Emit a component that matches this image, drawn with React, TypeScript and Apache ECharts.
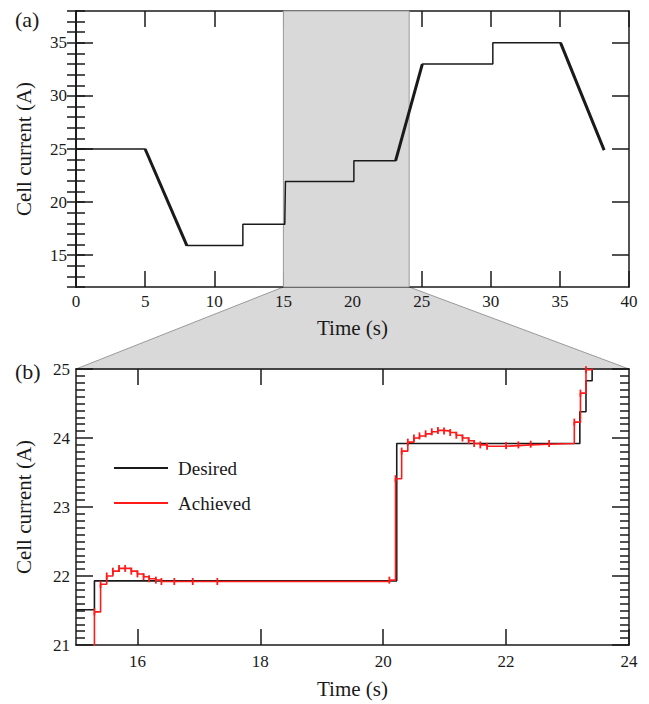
import React, { useEffect, useRef } from 'react';
import * as echarts from 'echarts';

// ---- Panel (a): overall current profile ----
const topTime = [0, 5.0, 8.02, 12.07, 12.07, 15.1, 15.15, 20.1, 20.1, 23.12, 25.05, 30.15, 30.15, 35.05, 38.2];
const topCurrent = [25, 25, 15.9, 15.9, 17.9, 17.9, 21.95, 21.95, 23.9, 23.9, 33, 33, 35, 35, 24.9];
const topYTicks = [15, 20, 25, 30, 35];
const zoomWindow = [15, 24.1];

// ---- Panel (b): zoomed detail ----
const desiredTime = [15.0, 15.3, 20.22, 23.2, 23.3, 23.4];
const desiredCurrent = [21.51, 21.93, 23.92, 24.38, 24.83, 25.3];
const achievedTime = [15.3, 15.3, 15.4, 15.5, 15.6, 15.7, 15.8, 15.9, 16.0, 16.1, 16.19, 16.3, 16.39, 16.6, 16.9, 17.3,
  20.1, 20.2, 20.3, 20.4, 20.5, 20.59, 20.69, 20.79, 20.89, 20.99, 21.09, 21.19, 21.29, 21.39, 21.48, 21.58, 21.69,
  22.0, 22.2, 22.4, 22.7, 23.11, 23.21, 23.3, 23.4];
const achievedCurrent = [18.0, 21.48, 21.88, 22.0, 22.07, 22.11, 22.11, 22.07, 22.03, 21.99, 21.96, 21.94, 21.92, 21.92, 21.92, 21.92,
  21.94, 23.41, 23.81, 23.94, 24.0, 24.03, 24.06, 24.09, 24.11, 24.1, 24.08, 24.04, 24.0, 23.96, 23.92, 23.9, 23.88,
  23.89, 23.9, 23.91, 23.92, 24.23, 24.65, 24.99, 25.3];
const bottomXTicks = [16, 18, 20, 22, 24];
const bottomXTopTicks = [16, 18, 20, 22];
const seriesNames = ['Desired', 'Achieved'];

const FONT = "'Liberation Serif', 'Times New Roman', serif";
const INK = '#1a1a1a';

export default function App() {
  const ref = useRef<HTMLDivElement>(null);

  useEffect(() => {
    if (!ref.current) return;
    const chart = echarts.init(ref.current, undefined, { renderer: 'svg' });

    const line = { show: true, lineStyle: { color: INK, width: 1.5 } };
    const noLabel = { show: false };
    const tick = (len: number, extra: any = {}) => ({ show: true, inside: true, length: len, lineStyle: { color: INK, width: 1.5 }, ...extra });
    const label = (margin: number, extra: any = {}) => ({ show: true, color: INK, fontSize: 17, fontFamily: FONT, margin, ...extra });
    const nameStyle = { color: INK, fontSize: 21, fontFamily: FONT };

    const topRect = { left: 76, top: 11, width: 553, height: 276 };
    const grids = [
      topRect,
      { left: 76, top: 369, width: 553, height: 276 },
      { ...topRect },
    ];

    const xAxis: any[] = [
      { gridIndex: 0, type: 'value', position: 'bottom', min: 0, max: 40, interval: 5, axisLine: line,
        axisTick: tick(16), axisLabel: label(6), splitLine: { show: false },
        name: 'Time (s)', nameLocation: 'middle', nameGap: 30, nameTextStyle: nameStyle },
      { gridIndex: 0, type: 'value', position: 'top', min: 0, max: 40, interval: 5, axisLine: line,
        axisTick: tick(16), axisLabel: noLabel, splitLine: { show: false } },
      { gridIndex: 1, type: 'value', position: 'bottom', min: 15, max: 24, axisLine: line,
        axisTick: tick(16, { customValues: bottomXTicks }), axisLabel: label(8, { customValues: bottomXTicks }),
        splitLine: { show: false },
        name: 'Time (s)', nameLocation: 'middle', nameGap: 33, nameTextStyle: nameStyle },
      { gridIndex: 1, type: 'value', position: 'top', min: 15, max: 24, axisLine: line,
        axisTick: tick(16, { customValues: bottomXTopTicks }), axisLabel: noLabel, splitLine: { show: false } },
      { gridIndex: 2, type: 'value', min: 0, max: 40, show: false },
    ];

    const yAxis: any[] = [
      // top panel: minor ticks every 1 (with labels on multiples of 5)
      { gridIndex: 0, type: 'value', position: 'left', min: 12, max: 38, interval: 1, axisLine: line,
        axisTick: tick(9),
        axisLabel: label(9, { formatter: (v: number) => (topYTicks.indexOf(v) >= 0 ? String(v) : '') }),
        splitLine: { show: false },
        name: 'Cell current (A)', nameLocation: 'middle', nameGap: 42, nameTextStyle: nameStyle },
      { gridIndex: 0, type: 'value', position: 'right', min: 12, max: 38, interval: 1, axisLine: line,
        axisTick: tick(9), axisLabel: noLabel, splitLine: { show: false } },
      // bottom panel
      { gridIndex: 1, type: 'value', position: 'left', min: 21, max: 25, interval: 1, axisLine: line,
        axisTick: tick(17), minorTick: { show: true, splitNumber: 10, length: 9, lineStyle: { color: INK, width: 1.5 } },
        axisLabel: label(6), splitLine: { show: false }, minorSplitLine: { show: false },
        name: 'Cell current (A)', nameLocation: 'middle', nameGap: 42, nameTextStyle: nameStyle },
      { gridIndex: 1, type: 'value', position: 'right', min: 21, max: 25, interval: 1, axisLine: line,
        axisTick: tick(17), minorTick: { show: true, splitNumber: 10, length: 9, lineStyle: { color: INK, width: 1.5 } },
        axisLabel: noLabel, splitLine: { show: false }, minorSplitLine: { show: false } },
      // top panel: major ticks (overlay grid)
      { gridIndex: 2, type: 'value', position: 'left', min: 12, max: 38, axisLine: line,
        axisTick: tick(17, { customValues: topYTicks }), axisLabel: noLabel, splitLine: { show: false } },
      { gridIndex: 2, type: 'value', position: 'right', min: 12, max: 38, axisLine: line,
        axisTick: tick(17, { customValues: topYTicks }), axisLabel: noLabel, splitLine: { show: false } },
    ];

    const topData = topTime.map((t, i) => [t, topCurrent[i]]);
    const rampSeries: any[] = [];
    for (let i = 0; i < topTime.length - 1; i++) {
      if (topTime[i + 1] - topTime[i] > 0.5 && topCurrent[i + 1] !== topCurrent[i]) {
        rampSeries.push({
          type: 'line', xAxisIndex: 0, yAxisIndex: 0, showSymbol: false, silent: true,
          data: [topData[i], topData[i + 1]],
          lineStyle: { color: INK, width: 3 }, z: 3,
        });
      }
    }

    const option: any = {
      animation: false,
      backgroundColor: '#ffffff',
      textStyle: { fontFamily: FONT },
      grid: grids,
      xAxis,
      yAxis,
      legend: {
        data: seriesNames,
        orient: 'vertical',
        left: 109,
        top: 453,
        icon: 'rect',
        itemWidth: 54,
        itemHeight: 2,
        itemGap: 15,
        textStyle: { color: INK, fontSize: 19, fontFamily: FONT, lineHeight: 20, padding: [0, 0, 0, 5] },
      },
      series: [
        {
          type: 'line', name: 'Overall', xAxisIndex: 0, yAxisIndex: 0, showSymbol: false,
          data: topData, lineStyle: { color: INK, width: 1.5 }, itemStyle: { color: INK }, z: 3,
          markArea: {
            silent: true,
            itemStyle: { color: '#d9d9d9', borderColor: '#9a9a9a', borderWidth: 1 },
            data: [[{ xAxis: zoomWindow[0] }, { xAxis: zoomWindow[1] }]],
          },
        },
        ...rampSeries,
        {
          type: 'line', name: seriesNames[0], xAxisIndex: 2, yAxisIndex: 2, step: 'end', showSymbol: false,
          data: desiredTime.map((t, i) => [t, desiredCurrent[i]]),
          lineStyle: { color: INK, width: 1.6 }, itemStyle: { color: INK }, z: 3,
        },
        {
          type: 'line', name: seriesNames[1], xAxisIndex: 2, yAxisIndex: 2, step: 'end',
          symbol: 'rect', symbolSize: [1.8, 7], showSymbol: true,
          data: achievedTime.map((t, i) => [t, achievedCurrent[i]]),
          lineStyle: { color: '#ff1a1a', width: 1.6 }, itemStyle: { color: '#ff1a1a' }, z: 4,
        },
      ],
    };

    chart.setOption(option);

    const a0 = chart.convertToPixel({ xAxisIndex: 0, yAxisIndex: 0 }, [zoomWindow[0], 12]) as number[];
    const a1 = chart.convertToPixel({ xAxisIndex: 0, yAxisIndex: 0 }, [zoomWindow[1], 12]) as number[];
    const b1 = chart.convertToPixel({ xAxisIndex: 2, yAxisIndex: 2 }, [24, 25]) as number[];
    const b0 = chart.convertToPixel({ xAxisIndex: 2, yAxisIndex: 2 }, [15, 25]) as number[];

    chart.setOption({
      graphic: [
        {
          type: 'polygon', z: -1, silent: true,
          shape: { points: [a0, a1, b1, b0] },
          style: { fill: '#d9d9d9', stroke: '#9a9a9a', lineWidth: 1 },
        },
        { type: 'text', left: 15, top: 8, style: { text: '(a)', fill: INK, font: `22px ${FONT}` } },
        { type: 'text', left: 15, top: 360, style: { text: '(b)', fill: INK, font: `22px ${FONT}` } },
      ],
    });

    return () => chart.dispose();
  }, []);

  return (
    <div
      ref={ref}
      style={{ position: 'absolute', left: 0, top: 0, width: 649, height: 704, background: '#ffffff' }}
    />
  );
}
